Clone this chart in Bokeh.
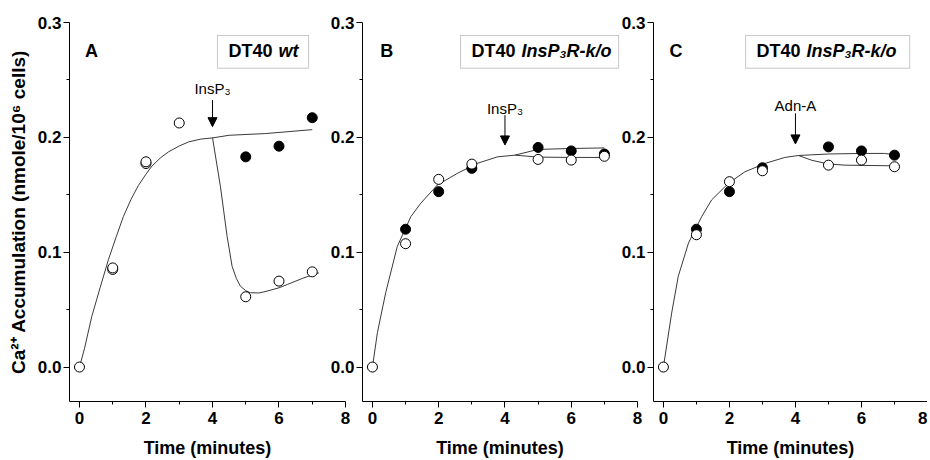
from bokeh.plotting import figure
from bokeh.models import (FixedTicker, PrintfTickFormatter, Label, BoxAnnotation,
                          Arrow, NormalHead, Range1d)
from bokeh.layouts import row
from bokeh.embed import file_html
from bokeh.resources import INLINE

# ---------------- data ----------------
x_major = [0, 2, 4, 6, 8]
x_minor = [1, 3, 5, 7]
y_major = [0.0, 0.1, 0.2, 0.3]
y_minor = [0.05, 0.15, 0.25]

# Panel A  (DT40 wt)
a_open_t = [0, 1, 2, 3, 5, 6, 7]
a_open_y = [0.0, 0.0863, 0.1787, 0.2125, 0.0612, 0.0748, 0.0829]
a_open2_t = [1, 2]
a_open2_y = [0.0850, 0.1772]
a_filled_t = [5, 6, 7]
a_filled_y = [0.183, 0.1923, 0.2171]
a_fit_t = [0, 0.15, 0.37, 0.62, 0.87, 1.1, 1.32, 1.55, 1.77, 2.0, 2.18, 2.45, 2.68, 3.0, 3.28, 3.65, 4.0, 4.5, 5.6, 7.0]
a_fit_y = [0.0, 0.016, 0.044, 0.069, 0.0935, 0.113, 0.131, 0.146, 0.158, 0.168, 0.175, 0.1825, 0.1874, 0.1925, 0.196, 0.1985, 0.1995, 0.2018, 0.2033, 0.2067]
a_drop_t = [4.0, 4.24, 4.44, 4.59, 4.72, 4.84, 5.0, 5.14, 5.4, 5.64, 6.0, 6.25, 6.75, 7.2]
a_drop_y = [0.1998, 0.157, 0.1137, 0.0877, 0.077, 0.0704, 0.0665, 0.0647, 0.0645, 0.0661, 0.069, 0.0719, 0.0777, 0.082]

# Panel B  (DT40 InsP3R-k/o, InsP3)
b_open_t = [0, 1, 2, 3, 5, 6, 7]
b_open_y = [0.0, 0.1074, 0.1634, 0.1767, 0.1808, 0.1802, 0.1835]
b_filled_t = [1, 2, 3, 5, 6, 7]
b_filled_y = [0.120, 0.1527, 0.173, 0.1912, 0.1882, 0.1855]
b_fit_t = [0, 0.15, 0.4, 0.75, 1.16, 1.46, 1.96, 2.56, 3.16, 3.77, 4.3]
b_fit_y = [0.0, 0.030, 0.0647, 0.105, 0.131, 0.1427, 0.1585, 0.1686, 0.1773, 0.183, 0.1845]
b_upper_t = [4.3, 5.0, 6.0, 7.0]
b_upper_y = [0.1845, 0.1895, 0.1903, 0.1908]
b_lower_t = [4.3, 5.0, 6.0, 7.0]
b_lower_y = [0.1845, 0.1828, 0.1825, 0.1825]

# Panel C  (DT40 InsP3R-k/o, Adn-A)
c_open_t = [0, 1, 2, 3, 5, 6, 7]
c_open_y = [0.0, 0.1152, 0.1614, 0.1709, 0.1758, 0.1802, 0.1744]
c_filled_t = [1, 2, 3, 5, 6, 7]
c_filled_y = [0.120, 0.1527, 0.1735, 0.1917, 0.1882, 0.1845]
c_fit_t = [0, 0.25, 0.45, 0.76, 1.16, 1.46, 1.97, 2.47, 3.08, 3.68, 4.09]
c_fit_y = [0.0, 0.047, 0.079, 0.108, 0.131, 0.1455, 0.160, 0.170, 0.1773, 0.1825, 0.1842]
c_upper_t = [4.09, 5.0, 6.0, 6.7, 7.0]
c_upper_y = [0.1842, 0.1855, 0.186, 0.186, 0.1848]
c_lower_t = [4.09, 4.5, 5.0, 5.5, 7.0]
c_lower_y = [0.1842, 0.180, 0.1768, 0.1758, 0.1752]

FONT = "Liberation Sans"
LINE_COLOR = "#3a3a3a"


def make_panel(width, min_left, min_right, ylabel):
    p = figure(width=width, height=460,
               x_range=Range1d(-0.3, 8), y_range=Range1d(-0.03, 0.3),
               output_backend="svg", toolbar_location=None,
               min_border_left=min_left, min_border_right=min_right,
               min_border_top=22, min_border_bottom=57)
    p.outline_line_color = None
    p.grid.visible = False
    p.background_fill_alpha = 0
    p.border_fill_alpha = 0

    p.xaxis.ticker = FixedTicker(ticks=x_major, minor_ticks=x_minor)
    p.yaxis.ticker = FixedTicker(ticks=y_major, minor_ticks=y_minor)
    p.xaxis.formatter = PrintfTickFormatter(format="%d")
    p.yaxis.formatter = PrintfTickFormatter(format="%.1f")
    for ax in (p.xaxis, p.yaxis):
        ax.axis_line_color = "black"
        ax.axis_line_width = 1
        ax.major_tick_line_color = "black"
        ax.minor_tick_line_color = "black"
        ax.major_tick_out = 6
        ax.major_tick_in = 0
        ax.minor_tick_out = 3
        ax.minor_tick_in = 0
        ax.major_label_text_font = FONT
        ax.major_label_text_font_style = "bold"
        ax.major_label_text_font_size = "17px"
        ax.major_label_text_color = "black"
        ax.axis_label_text_font = FONT
        ax.axis_label_text_font_style = "bold"
        ax.axis_label_text_color = "black"
    p.xaxis.axis_label_text_font_size = "18px"
    p.yaxis.axis_label_text_font_size = "19px"
    p.xaxis.major_label_standoff = 4
    p.xaxis.axis_label_standoff = 11
    p.yaxis.major_label_standoff = 2
    p.yaxis.axis_label_standoff = 6
    p.xaxis.axis_label = "Time (minutes)"
    if ylabel:
        p.yaxis.axis_label = ylabel
    return p


def add_letter(p, x, text):
    p.add_layout(Label(x=x, y=0.2749, text=text, text_font=FONT,
                       text_font_style="bold", text_font_size="18px",
                       text_color="black",
                       text_align="center", text_baseline="middle"))


def add_box(p, left, right, italic_text):
    p.add_layout(BoxAnnotation(left=left, right=right, bottom=0.2602, top=0.2887,
                               fill_color="white", fill_alpha=1,
                               line_color="#444444", line_width=1))
    p.add_layout(Label(x=left, y=0.2749, x_offset=11, text="DT40", text_font=FONT,
                       text_font_style="bold", text_font_size="18px",
                       text_color="black",
                       text_align="left", text_baseline="middle"))
    p.add_layout(Label(x=left, y=0.2749, x_offset=61, text=italic_text, text_font=FONT,
                       text_font_style="bold italic", text_font_size="18px",
                       text_color="black",
                       text_align="left", text_baseline="middle"))


def add_arrow(p, text, y_text, y_start, y_end):
    p.add_layout(Arrow(end=NormalHead(size=9, fill_color="black", line_color="black"),
                       x_start=4, y_start=y_start, x_end=4, y_end=y_end,
                       line_color="black", line_width=1))
    p.add_layout(Label(x=4, y=y_text, text=text, text_font=FONT,
                       text_font_size="15px", text_color="black",
                       text_align="center", text_baseline="middle"))


def open_pts(p, t, y):
    p.scatter(t, y, marker="circle", size=10, fill_color="white",
              line_color="black", line_width=1)


def filled_pts(p, t, y):
    p.scatter(t, y, marker="circle", size=10, fill_color="black",
              line_color="black", line_width=1)


# ---------------- Panel A ----------------
pA = make_panel(353, 69, 8, "Ca²⁺ Accumulation (nmole/10⁶ cells)")
pA.line(a_fit_t, a_fit_y, line_color=LINE_COLOR, line_width=1)
pA.line(a_drop_t, a_drop_y, line_color=LINE_COLOR, line_width=1)
filled_pts(pA, a_filled_t, a_filled_y)
open_pts(pA, a_open2_t, a_open2_y)
open_pts(pA, a_open_t, a_open_y)
add_letter(pA, 0.36, "A")
add_box(pA, 4.15, 6.89, "wt")
add_arrow(pA, "InsP₃", 0.2428, 0.2324, 0.2093)

# ---------------- Panel B ----------------
pB = make_panel(319, 36, 8, None)
pB.styles = {"margin-left": "-27px"}
pB.line(b_fit_t, b_fit_y, line_color=LINE_COLOR, line_width=1)
pB.line(b_upper_t, b_upper_y, line_color=LINE_COLOR, line_width=1)
pB.line(b_lower_t, b_lower_y, line_color=LINE_COLOR, line_width=1)
filled_pts(pB, b_filled_t, b_filled_y)
open_pts(pB, b_open_t, b_open_y)
add_letter(pB, 0.43, "B")
add_box(pB, 2.66, 7.43, "InsP₃R-k/o")
add_arrow(pB, "InsP₃", 0.2252, 0.2194, 0.1934)

# ---------------- Panel C ----------------
pC = make_panel(310, 36, 0, None)
pC.styles = {"margin-left": "-28px"}
pC.line(c_fit_t, c_fit_y, line_color=LINE_COLOR, line_width=1)
pC.line(c_upper_t, c_upper_y, line_color=LINE_COLOR, line_width=1)
pC.line(c_lower_t, c_lower_y, line_color=LINE_COLOR, line_width=1)
filled_pts(pC, c_filled_t, c_filled_y)
open_pts(pC, c_open_t, c_open_y)
add_letter(pC, 0.38, "C")
add_box(pC, 2.49, 7.46, "InsP₃R-k/o")
add_arrow(pC, "Adn-A", 0.2281, 0.2209, 0.1943)

layout = row(pA, pB, pC)
open("out.html", "w").write(file_html(layout, INLINE))
